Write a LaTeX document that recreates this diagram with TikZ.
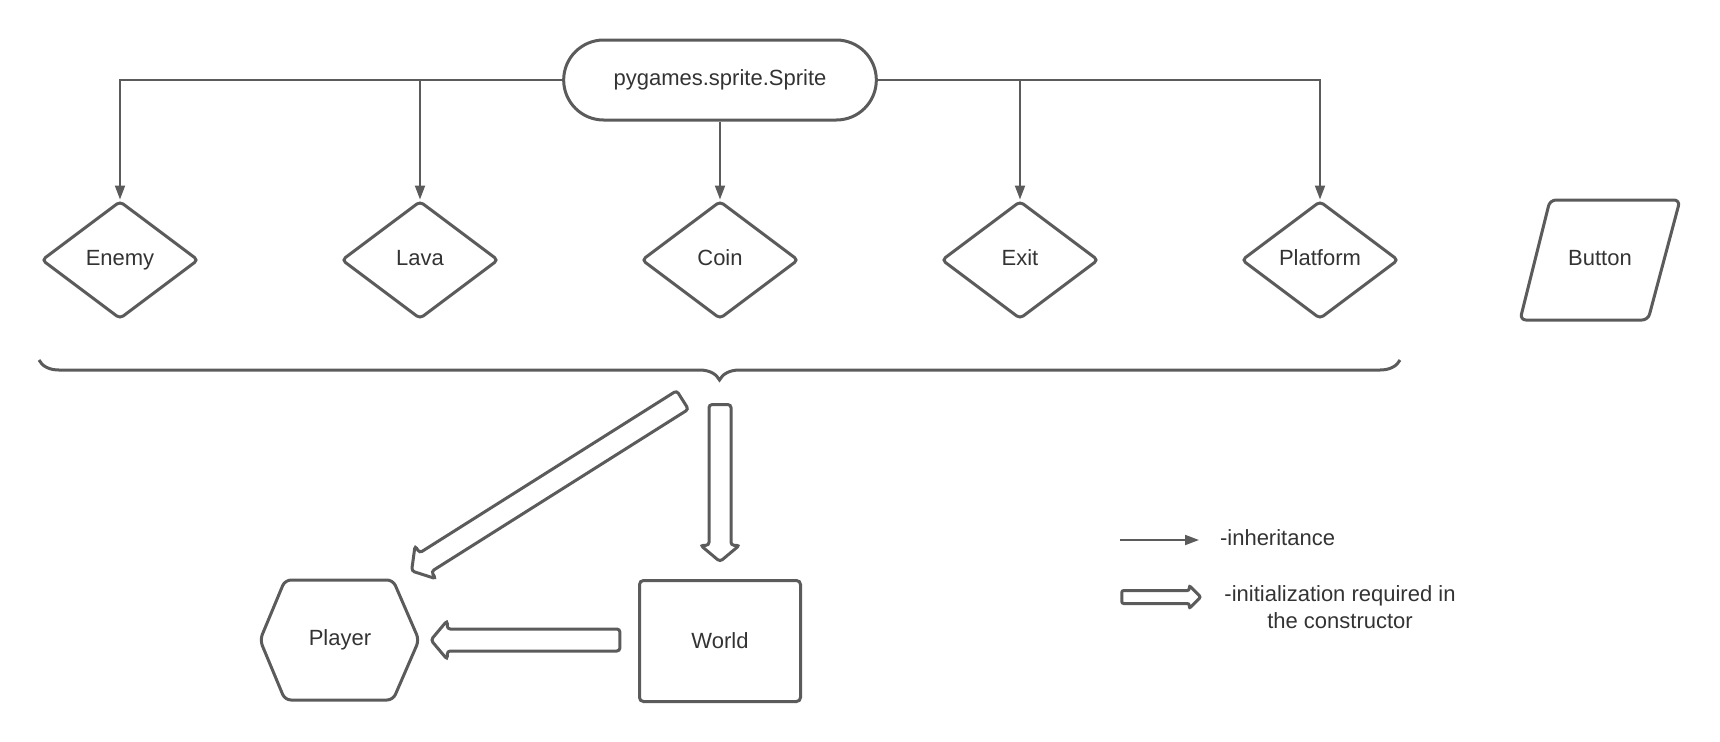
\documentclass[tikz,border=0pt]{standalone}
\usepackage{fontspec}
\setmainfont{Liberation Sans}
\usetikzlibrary{shapes.geometric,shapes.misc,shapes.arrows,arrows.meta,decorations.pathreplacing}
\definecolor{shapegray}{HTML}{5B5B5B}
\definecolor{textgray}{HTML}{333333}

\begin{document}
\begin{tikzpicture}[x=.5pt,y=-.5pt,font=\fontsize{11}{13.5}\selectfont,text=textgray,
  outline/.style={draw=shapegray,line width=1.5pt},
  classbox/.style={outline,diamond,rounded corners=2pt,inner sep=0pt,text height=8pt,text depth=2.3pt,minimum width=78.5pt,minimum height=59pt},
  inherit/.style={draw=shapegray,line width=1pt,-{Triangle[length=7pt,width=5pt]}},
  hollow/.style={outline,single arrow,rounded corners=1.5pt,inner xsep=0pt,inner ysep=4.75pt,single arrow head extend=4.25pt,single arrow tip angle=100}]
\useasboundingbox (0,0) rectangle (1720,741);
\node[outline,rounded rectangle,minimum width=163pt,minimum height=40pt] (sprite) at (720,80) {pygames.sprite.Sprite};
\node[classbox] (enemy) at (120,260) {Enemy};
\node[classbox] (lava) at (420,260) {Lava};
\node[classbox] (coin) at (720,260) {Coin};
\node[classbox] (exit) at (1020,260) {Exit};
\node[classbox] (platform) at (1320,260) {Platform};
\draw[inherit] (sprite.west) -| (enemy.north);
\draw[inherit] (sprite.west) -| (lava.north);
\draw[inherit] (sprite.south) -- (coin.north);
\draw[inherit] (sprite.east) -| (exit.north);
\draw[inherit] (sprite.east) -| (platform.north);
\draw[outline,rounded corners=3pt] (1520,320) -- (1550,200) -- (1680,200) -- (1648,320) -- cycle;
\node (button) at (1600,258) {Button};
\draw[outline,decorate,decoration={brace,mirror,amplitude=10pt}] (39,360) -- (1400,360);
\node[hollow,minimum height=160.2pt,rotate=212.25] (toplayer) at (551,483) {};
\node[hollow,minimum height=78.5pt,rotate=-90] (toworld) at (720,478.5) {};
\draw[outline,rounded corners=3pt] (260,640) -- (285,580) -- (393,580) -- (419,640) -- (393,700) -- (285,700) -- cycle;
\node (player) at (340,640) {Player};
\node[outline,rounded corners=2pt,minimum width=80.5pt,minimum height=60.5pt] (world) at (720,641) {World};
\node[hollow,minimum height=94.5pt,rotate=180] (worldtoplayer) at (530,640) {};
\coordinate (inhstart) at (1120,540);
\coordinate (inhend) at (1199,540);
\draw[inherit] (inhstart) -- (inhend);
\node[anchor=west] (inhlabel) at (1213,538) {-inheritance};
\node[hollow,rounded corners=1pt,inner ysep=2.5pt,single arrow head extend=2.5pt,single arrow tip angle=90,minimum height=39.5pt] (legendhollow) at (1158,597) {};
\node[align=center] (initlabel) at (1340,607) {-initialization required in\\the constructor};
\end{tikzpicture}
\end{document}
